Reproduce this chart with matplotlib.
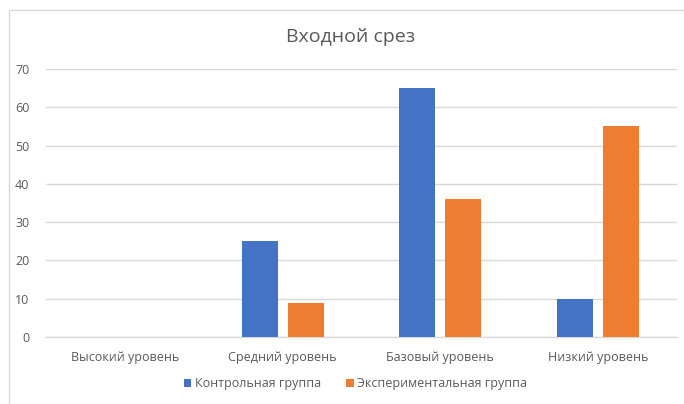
import matplotlib
matplotlib.use("Agg")
import matplotlib.pyplot as plt
import numpy as np
from matplotlib.patches import Rectangle

plt.rcParams['font.family'] = ['Open Sans', 'DejaVu Sans']

categories = ["Высокий уровень", "Средний уровень", "Базовый уровень", "Низкий уровень"]
control = [0, 25, 65, 10]
experimental = [0, 9, 36, 55]
series_names = ["Контрольная группа", "Экспериментальная группа"]
yticks = [0, 10, 20, 30, 40, 50, 60, 70]

blue = "#4472C4"
orange = "#ED7D31"
text_c = "#595959"
grid_c = "#D9D9D9"

fig = plt.figure(figsize=(6.84, 4.04), dpi=100)
fig.patch.set_facecolor("white")
fig.patches.append(Rectangle((9/684, -0.1), 1.2, (404-10)/404 + 0.1, transform=fig.transFigure,
                             fill=False, edgecolor="#D9D9D9", linewidth=1.0))

ax = fig.add_axes([46/684, (404-337)/404, (677-46)/684, (337-69)/404])
x = np.arange(len(categories))
w = 0.229
off = 0.146
ax.bar(x - off, control, w, color=blue, label=series_names[0], zorder=3)
ax.bar(x + off, experimental, w, color=orange, label=series_names[1], zorder=3)

ax.set_xlim(-0.5, len(categories) - 0.5)
ax.set_ylim(0, 70)
ax.set_yticks(yticks)
ax.yaxis.grid(True, color=grid_c, linewidth=1.0, zorder=0)
ax.set_axisbelow(True)
for s in ["top", "right", "left"]:
    ax.spines[s].set_visible(False)
ax.spines["bottom"].set_color(grid_c)
ax.spines["bottom"].set_linewidth(1.0)
ax.tick_params(axis="both", length=0, colors=text_c, labelsize=9)
ax.tick_params(axis="y", pad=12)
ax.tick_params(axis="x", pad=10)
ax.set_xticks(x)
ax.set_xticklabels(categories)

fig.text(0.512, 1 - 37/404, "Входной срез", ha="center", va="center", fontsize=14, color=text_c)

leg = fig.legend(loc="center", bbox_to_anchor=(0.52, 1 - 384/404), ncol=2, frameon=False,
                 fontsize=9, handlelength=0.6, handleheight=0.6, handletextpad=0.3,
                 columnspacing=2.0, labelcolor=text_c)

fig.savefig("out.png", dpi=100, facecolor="white")
